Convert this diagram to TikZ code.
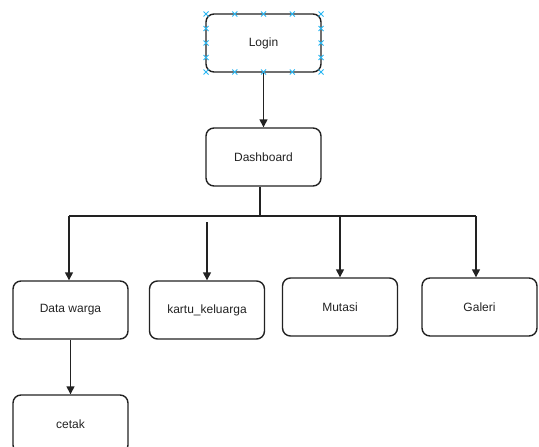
\documentclass[tikz,border=0pt]{standalone}
\usepackage{fontspec}
\setmainfont{Liberation Sans}
\usetikzlibrary{arrows.meta}
\definecolor{griff}{HTML}{29B6F2}
\definecolor{strich}{HTML}{222222}
\tikzset{
  box/.style={draw=strich, line width=1.4pt, rounded corners=8pt,
    minimum width=115pt, minimum height=58pt, inner sep=0pt,
    text=strich, font=\fontsize{12}{14}\selectfont},
  pfeil/.style={draw=strich, line width=1.4pt, -{Triangle[length=8pt,width=8pt]}},
  linie/.style={draw=strich, line width=1.4pt},
  griffpunkt/.style={draw=griff, line width=0.8pt}
}
\begin{document}
\begin{tikzpicture}[x=1pt,y=-1pt]
    \useasboundingbox (0,0) rectangle (539,447);

    % Knoten oben
    \node[box] (login) at (263.5,43) {Login};
    \node[box] (dashboard) at (263.5,157) {Dashboard};

    % Knoten in der Reihe
    \node[box] (datawarga) at (70.5,310) {Data warga};
    \node[box] (kartu) at (207,310) {kartu\_keluarga};
    \node[box] (mutasi) at (340,307) {Mutasi};
    \node[box] (galeri) at (479.5,307) {Galeri};

    % Knoten unten
    \node[box] (cetak) at (70.5,424) {cetak};

    % Griffpunkte um Login
    \foreach \x in {206,234.75,263.5,292.25,321}{
      \draw[griffpunkt] (\x-2.5,11.5) -- (\x+2.5,16.5) (\x-2.5,16.5) -- (\x+2.5,11.5);
      \draw[griffpunkt] (\x-2.5,69.5) -- (\x+2.5,74.5) (\x-2.5,74.5) -- (\x+2.5,69.5);
    }
    \foreach \y in {28.5,43,57.5}{
      \draw[griffpunkt] (203.5,\y-2.5) -- (208.5,\y+2.5) (203.5,\y+2.5) -- (208.5,\y-2.5);
      \draw[griffpunkt] (318.5,\y-2.5) -- (323.5,\y+2.5) (318.5,\y+2.5) -- (323.5,\y-2.5);
    }

    % Verbindungen
    \draw[pfeil] (login) -- (dashboard);

    \coordinate (mitte) at (260,216);
    \coordinate (links) at (69,216);
    \coordinate (rechts) at (476,216);
    \coordinate (kartuoben) at (207,222);
    \coordinate (mutasioben) at (340,216);

    \draw[linie] (dashboard.south -| mitte) -- (mitte);
    \draw[linie] (links) -- (rechts);

    \draw[pfeil] (links) -- (links |- datawarga.north);
    \draw[pfeil] (kartuoben) -- (kartu.north);
    \draw[pfeil] (mutasioben) -- (mutasi.north);
    \draw[pfeil] (rechts) -- (rechts |- galeri.north);

    \draw[pfeil] (datawarga) -- (cetak);
  \end{tikzpicture}
\end{document}
